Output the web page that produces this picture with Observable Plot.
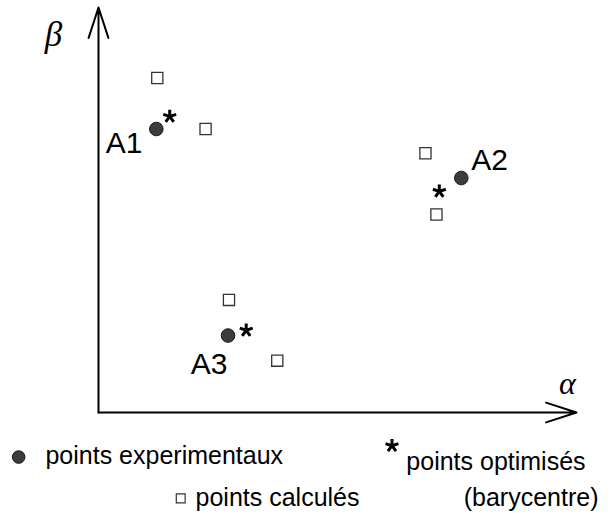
<!DOCTYPE html>
<html><head><meta charset="utf-8">
<script src="https://cdn.jsdelivr.net/npm/d3@7"></script>
<script src="https://cdn.jsdelivr.net/npm/@observablehq/plot@0.6"></script>
<style>body{margin:0;background:#fff}</style>
</head><body><div id="chart"></div>
<script>
// Experimental points
const names = ["A1", "A2", "A3"];
const alphaExp = [12.1, 75.9, 27.1];
const betaExp = [70.0, 57.9, 19.0];
// Optimised points (barycentre)
const alphaOpt = [14.9, 71.3, 30.9];
const betaOpt = [73.1, 54.6, 20.3];
// Calculated points
const calcGroup = ["A1", "A1", "A2", "A2", "A3", "A3"];
const alphaCalc = [12.3, 22.4, 68.4, 70.7, 27.3, 37.4];
const betaCalc = [82.6, 70.0, 64.0, 48.9, 27.8, 12.8];
// Point label anchors
const labelAlpha = [1.5, 78.0, 19.3];
const labelBeta = [64.0, 59.9, 9.6];
// Legend texts
const legendTexts = ["points experimentaux", "points calculés", "points optimisés", "(barycentre)"];

const exp = names.map((n, i) => ({name: n, a: alphaExp[i], b: betaExp[i], la: labelAlpha[i], lb: labelBeta[i]}));
const opt = names.map((n, i) => ({name: n, a: alphaOpt[i], b: betaOpt[i]}));
const calc = calcGroup.map((g, i) => ({g, a: alphaCalc[i], b: betaCalc[i]}));

// five-armed asterisk symbol
const asterisk5 = {
  draw(context, size) {
    const r = Math.sqrt(size / Math.PI);
    for (let k = 0; k < 5; ++k) {
      const t = (-90 + 72 * k) * Math.PI / 180;
      context.moveTo(0, 0);
      context.lineTo(r * Math.cos(t), r * Math.sin(t));
    }
  }
};

// legend layout (in plot units, below the axes)
const legDots = [{a: -16.7, b: -11.0}];
const legStars = [{a: 61.4, b: -8.2}];
const legSquares = [{a: 17.2, b: -21.2}];
const legLabels = [
  {t: legendTexts[0], a: -11.1, b: -12.8},
  {t: legendTexts[1], a: 20.3, b: -23.0},
  {t: legendTexts[2], a: 64.4, b: -14.1},
  {t: legendTexts[3], a: 76.4, b: -23.0}
];

const axes = [
  {x1: 0, y1: 0, x2: 0, y2: 100},
  {x1: 0, y1: 0, x2: 100, y2: 0}
];

const plot = Plot.plot({
  width: 610,
  height: 517,
  marginLeft: 98,
  marginRight: 34,
  marginTop: 7,
  marginBottom: 105,
  x: {domain: [0, 100], axis: null},
  y: {domain: [0, 100], axis: null},
  style: {background: "white", overflow: "visible"},
  marks: [
    Plot.arrow(axes, {x1: "x1", y1: "y1", x2: "x2", y2: "y2", stroke: "black", strokeWidth: 2, headAngle: 36, headLength: 24}),
    Plot.text(["β"], {frameAnchor: "top-left", dx: -45, dy: 27, fontFamily: "Liberation Serif", fontStyle: "italic", fontSize: 35, text: d => d, lineAnchor: "middle", textAnchor: "middle"}),
    Plot.text(["α"], {frameAnchor: "bottom-right", dx: -9, dy: -29, fontFamily: "Liberation Serif", fontStyle: "italic", fontSize: 32, text: d => d, lineAnchor: "middle", textAnchor: "middle"}),
    Plot.dot(calc, {x: "a", y: "b", symbol: "square", r: 6.3, stroke: "#333", strokeWidth: 1.3, fill: "white"}),
    Plot.dot(exp, {x: "a", y: "b", r: 6.8, fill: "#3c3c3c", stroke: "#1a1a1a", strokeWidth: 1}),
    Plot.dot(opt, {x: "a", y: "b", symbol: asterisk5, r: 6.8, fill: "none", stroke: "black", strokeWidth: 3}),
    Plot.text(exp, {x: "la", y: "lb", text: "name", textAnchor: "start", lineAnchor: "bottom", fontFamily: "Liberation Sans", fontSize: 30, fill: "black"}),
    // legend
    Plot.dot(legDots, {x: "a", y: "b", r: 6.3, fill: "#3c3c3c", stroke: "#1a1a1a", strokeWidth: 1}),
    Plot.dot(legStars, {x: "a", y: "b", symbol: asterisk5, r: 6.8, fill: "none", stroke: "black", strokeWidth: 3}),
    Plot.dot(legSquares, {x: "a", y: "b", symbol: "square", r: 5, stroke: "#333", strokeWidth: 1.2, fill: "white"}),
    Plot.text(legLabels, {x: "a", y: "b", text: "t", textAnchor: "start", lineAnchor: "bottom", fontFamily: "Liberation Sans", fontSize: 25, fill: "black"})
  ]
});
document.getElementById("chart").appendChild(plot);
</script>
</body></html>
